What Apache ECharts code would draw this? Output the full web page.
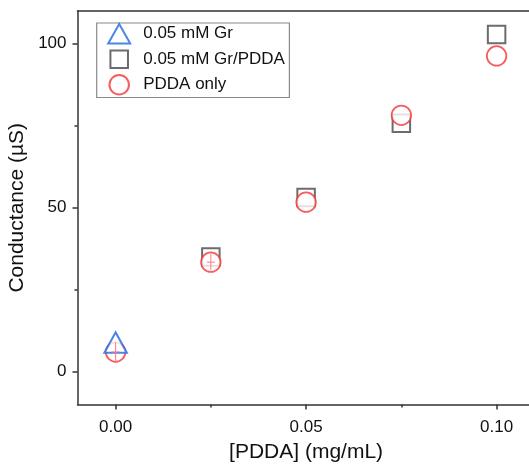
<!DOCTYPE html>
<html><head><meta charset="utf-8">
<script src="https://cdn.jsdelivr.net/npm/echarts@6/dist/echarts.min.js"></script>
<style>html,body{margin:0;padding:0;background:#fff}#c{width:529px;height:464px}</style>
</head><body><div id="c"></div>
<script>
const seriesNames = ['0.05 mM Gr', '0.05 mM Gr/PDDA', 'PDDA only'];
const grX = [0];
const grY = [8.9];
const grPddaX = [0.025, 0.05, 0.075, 0.1];
const grPddaY = [35.0, 53.1, 75.8, 102.8];
const pddaX = [0, 0.025, 0.05, 0.075, 0.1];
const pddaY = [6.0, 33.4, 51.7, 78.2, 96.3];
const errX = [0, 0.025];
const errLow = [3.3, 31.0];
const errHigh = [9.0, 36.0];
const xTicks = [0, 0.05, 0.1];
const xMinorTicks = [0.025, 0.075];
const yTicks = [0, 50, 100];
const yMinorTicks = [25, 75];

const FONT = "'Liberation Sans', Arial, sans-serif";
const AX = '#333';
const TXT = '#111';
const chart = echarts.init(document.getElementById('c'), null, {renderer: 'canvas'});
const xRange = {min: -0.01, max: 0.11};
const yRange = {min: -10, max: 110};
chart.setOption({
  animation: false,
  backgroundColor: '#fff',
  grid: {left: 77.5, top: 11, right: -5.7, bottom: 59.5, containLabel: false, outerBoundsMode: 'none'},
  legend: {
    data: [
      {name: seriesNames[0]},
      {name: seriesNames[1], icon: 'path://M0,0M20,20M1,1H19V19H1Z'},
      {name: seriesNames[2]}
    ],
    orient: 'vertical', left: 96.7, top: 23, symbolKeepAspect: true,
    padding: [0, 4.5, 2, 10.5], itemWidth: 22, itemHeight: 19.5, itemGap: 4,
    borderColor: '#8a8a8a', borderWidth: 1.2, backgroundColor: '#fff', selectedMode: false,
    textStyle: {fontSize: 17, color: TXT, fontFamily: FONT, padding: [0, 0, 0, 8]}
  },
  xAxis: [
    Object.assign({type: 'value', position: 'bottom',
      axisLine: {show: true, onZero: false, lineStyle: {color: AX, width: 1.5}},
      axisTick: {show: true, customValues: xTicks, length: 5, lineStyle: {color: AX, width: 1.5}},
      axisLabel: {customValues: xTicks, margin: 14, fontSize: 17, color: TXT, fontFamily: FONT,
        formatter: v => v.toFixed(2)},
      splitLine: {show: false},
      name: '[PDDA] (mg/mL)', nameLocation: 'middle', nameGap: 37,
      nameTextStyle: {fontSize: 21, color: TXT, fontFamily: FONT}
    }, xRange),
    Object.assign({type: 'value', position: 'bottom',
      axisLine: {show: false, onZero: false},
      axisTick: {show: true, customValues: xMinorTicks, length: 3, lineStyle: {color: AX, width: 1.5}},
      axisLabel: {show: false}, splitLine: {show: false}
    }, xRange),
    Object.assign({type: 'value', position: 'top',
      axisLine: {show: true, onZero: false, lineStyle: {color: AX, width: 1.5}},
      axisTick: {show: false}, axisLabel: {show: false}, splitLine: {show: false}
    }, xRange)
  ],
  yAxis: [
    Object.assign({type: 'value', position: 'left',
      axisLine: {show: true, onZero: false, lineStyle: {color: AX, width: 1.5}},
      axisTick: {show: true, customValues: yTicks, length: 5, lineStyle: {color: AX, width: 1.5}},
      axisLabel: {customValues: yTicks, margin: 11, fontSize: 17, color: TXT, fontFamily: FONT},
      splitLine: {show: false},
      name: 'Conductance (µS)', nameLocation: 'middle', nameGap: 46,
      nameTextStyle: {fontSize: 21, color: TXT, fontFamily: FONT}
    }, yRange),
    Object.assign({type: 'value', position: 'left',
      axisLine: {show: false, onZero: false},
      axisTick: {show: true, customValues: yMinorTicks, length: 3, lineStyle: {color: AX, width: 1.5}},
      axisLabel: {show: false}, splitLine: {show: false}
    }, yRange),
    Object.assign({type: 'value', position: 'right',
      axisLine: {show: true, onZero: false, lineStyle: {color: AX, width: 1.5}},
      axisTick: {show: false}, axisLabel: {show: false}, splitLine: {show: false}
    }, yRange)
  ],
  series: [
    {name: seriesNames[1], type: 'scatter', symbol: 'rect', symbolSize: 17.5,
      data: grPddaX.map((x, i) => [x, grPddaY[i]]),
      itemStyle: {color: '#fff', borderColor: '#474747', borderWidth: 2}, z: 2, silent: true},
    {name: seriesNames[2], type: 'scatter', symbol: 'circle', symbolSize: 19.5,
      data: pddaX.map((x, i) => [x, pddaY[i]]),
      itemStyle: {color: '#fff', borderColor: '#f53535', borderWidth: 1.8}, z: 3, silent: true},
    {name: seriesNames[0], type: 'scatter', symbol: 'triangle', symbolSize: [22.5, 20.5],
      data: grX.map((x, i) => [x, grY[i]]),
      itemStyle: {color: '#fff', borderColor: '#1f66e0', borderWidth: 2}, z: 4, silent: true},
    {name: 'err', type: 'custom', z: 5, silent: true,
      data: errX.map((x, i) => [x, errLow[i], errHigh[i], pddaY[pddaX.indexOf(x)]]),
      renderItem: (params, api) => {
        const x = api.value(0);
        const lo = api.coord([x, api.value(1)]);
        const hi = api.coord([x, api.value(2)]);
        const mid = api.coord([x, api.value(3)]);
        const st = {stroke: '#ff7a7a', lineWidth: 1};
        return {type: 'group', children: [
          {type: 'line', shape: {x1: lo[0], y1: lo[1], x2: hi[0], y2: hi[1]}, style: st},
          {type: 'line', shape: {x1: mid[0] - 4, y1: mid[1], x2: mid[0] + 4, y2: mid[1]}, style: st}
        ]};
      }}
  ]
});
</script></body></html>
